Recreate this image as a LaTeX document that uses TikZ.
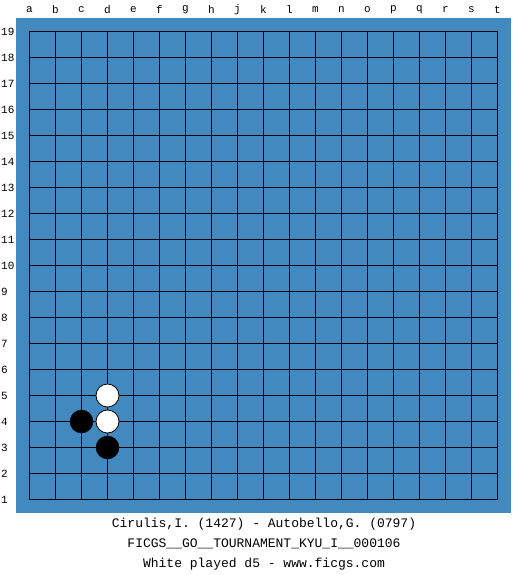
\documentclass[tikz,border=0pt]{standalone}
\usepackage{fontspec}
\setmonofont{Liberation Mono}
\definecolor{boardblue}{RGB}{65,137,191}
\begin{document}
\begin{tikzpicture}[x=1pt,y=-1pt,
  lab/.style={font=\ttfamily\fontsize{11}{11}\selectfont, inner sep=0pt},
  captxt/.style={font=\ttfamily\fontsize{13}{13}\selectfont, inner sep=0pt},
  bstone/.style={circle, fill=black, draw=black, minimum size=23pt, inner sep=0pt},
  wstone/.style={circle, fill=white, draw=black, line width=0.8pt, minimum size=23pt, inner sep=0pt}]
\useasboundingbox (0,0) rectangle (525,575);
\fill[white] (0,0) rectangle (525,575);
\fill[boardblue] (16,18) rectangle (511,512.5);
\foreach \i in {0,...,18} {
  \draw[line width=1.1pt] (29.5+26*\i,31.5) -- (29.5+26*\i,499.5);
  \draw[line width=1.1pt] (29.5,31.5+26*\i) -- (497.5,31.5+26*\i);
}
\foreach \l [count=\i from 0] in {a,b,c,d,e,f,g,h,j,k,l,m,n,o,p,q,r,s,t} {
  \node[lab] (col\l) at (29.5+26*\i,10) {\l};
}
\foreach \n in {1,...,19} {
  \node[lab, anchor=west] (row\n) at (1,499.5-26*\n+26) {\n};
}
\node[wstone] (d5) at (107.5,395.5) {};
\node[wstone] (d4) at (107.5,421.5) {};
\node[bstone] (c4) at (81.5,421.5) {};
\node[bstone] (d3) at (107.5,447.5) {};
\node[captxt] (t1) at (264,524) {Cirulis,I. (1427) - Autobello,G. (0797)};
\node[captxt] (t2) at (264,544) {FICGS\_\_GO\_\_TOURNAMENT\_KYU\_I\_\_000106};
\node[captxt] (t3) at (264,564) {White played d5 - www.ficgs.com};
\end{tikzpicture}
\end{document}
